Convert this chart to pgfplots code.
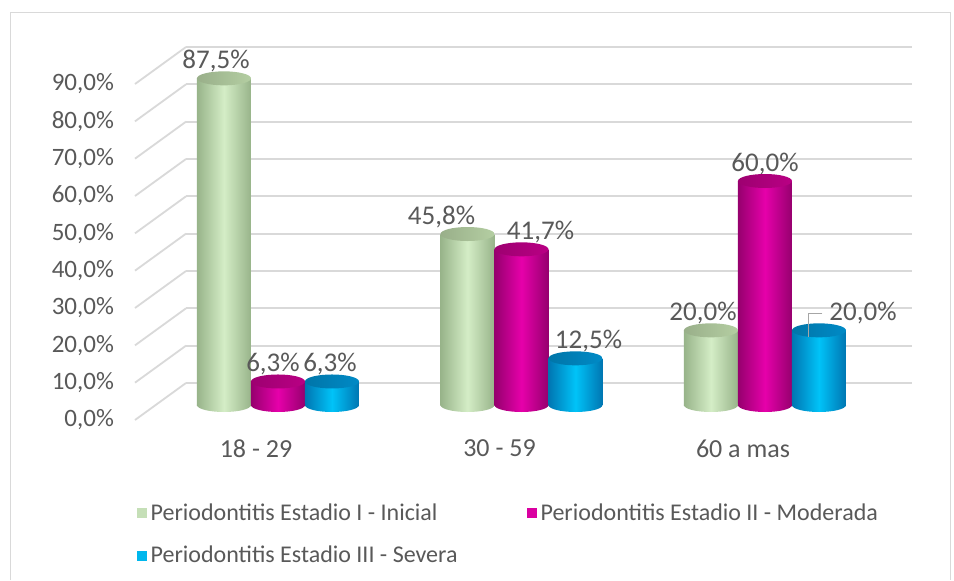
\documentclass[border=0pt]{standalone}
\usepackage{pgfplots}
\pgfplotsset{compat=1.18}
\usepackage{fontspec}
\setmainfont{Carlito}
\definecolor{txt}{RGB}{89,89,89}
\definecolor{gridc}{RGB}{217,217,217}
\definecolor{gL}{RGB}{212,237,198}
\definecolor{gD}{RGB}{152,180,138}
\definecolor{gC}{RGB}{180,206,162}
\definecolor{mL}{RGB}{230,0,170}
\definecolor{mD}{RGB}{150,0,110}
\definecolor{mC}{RGB}{185,0,132}
\definecolor{bL}{RGB}{0,195,248}
\definecolor{bD}{RGB}{0,118,178}
\definecolor{bC}{RGB}{0,138,198}
\pgfdeclareplotmark{botG}{\path[draw=none,left color=gD,right color=gD,middle color=gL] (0pt,0pt) ellipse [x radius=13.5pt, y radius=3.5pt];}
\pgfdeclareplotmark{botM}{\path[draw=none,left color=mD,right color=mD,middle color=mL] (0pt,0pt) ellipse [x radius=13.5pt, y radius=3.5pt];}
\pgfdeclareplotmark{botB}{\path[draw=none,left color=bD,right color=bD,middle color=bL] (0pt,0pt) ellipse [x radius=13.5pt, y radius=3.5pt];}
\pgfdeclareplotmark{topG}{\path[draw=none,left color=gC!85!black,right color=gC] (0pt,0pt) ellipse [x radius=13.5pt, y radius=3.5pt];}
\pgfdeclareplotmark{topM}{\path[draw=none,left color=mC!85!black,right color=mC] (0pt,0pt) ellipse [x radius=13.5pt, y radius=3.5pt];}
\pgfdeclareplotmark{topB}{\path[draw=none,left color=bC!85!black,right color=bC] (0pt,0pt) ellipse [x radius=13.5pt, y radius=3.5pt];}
\pgfplotsset{
  gbar/.style={ybar, bar width=27pt, bar shift=-27pt, draw=none, left color=gD, right color=gD, middle color=gL,
    legend image code/.code={\pgfsetfillcolor{gL!75!gD}\pgfpathrectangle{\pgfpoint{0pt}{-2.5pt}}{\pgfpoint{5pt}{5pt}}\pgfusepath{fill}}},
  mbar/.style={ybar, bar width=27pt, bar shift=0pt, draw=none, left color=mD, right color=mD, middle color=mL,
    legend image code/.code={\pgfsetfillcolor{mL!85!mD}\pgfpathrectangle{\pgfpoint{0pt}{-2.5pt}}{\pgfpoint{5pt}{5pt}}\pgfusepath{fill}}},
  bbar/.style={ybar, bar width=27pt, bar shift=27pt, draw=none, left color=bD, right color=bD, middle color=bL,
    legend image code/.code={\pgfsetfillcolor{bL!85!bD}\pgfpathrectangle{\pgfpoint{0pt}{-2.5pt}}{\pgfpoint{5pt}{5pt}}\pgfusepath{fill}}},
  lbl/.style={nodes near coords={\pgfmathprintnumber[fixed,fixed zerofill,precision=1,use comma]{\pgfplotspointmeta}\%},
    every node near coord/.append style={font=\fontsize{13.5}{15}\selectfont, text=txt, xshift=#1, yshift=-0.5pt}},
  leader/.style={every node near coord/.append style={append after command={\pgfextra{\draw[gray!70, line width=0.8pt] ([xshift=0pt]\tikzlastnode.west) -- ++(-7pt,0pt) -- ++(0pt,-12pt);}}}},
}
\begin{document}
\begin{tikzpicture}
\path[use as bounding box] (0,0) rectangle (477pt,290pt);
\fill[white] (0,0) rectangle (477pt,290pt);
\draw[gridc] (5pt,0) -- (5pt,284pt) -- (475pt,284pt) -- (475pt,0);
\begin{axis}[
  at={(80pt,87.5pt)}, anchor=south west,
  scale only axis, width=363pt, height=168pt,
  xmin=-0.4846, xmax=2.497, ymin=0, ymax=90,
  clip=false,
  ytick={0,10,...,90},
  xtick={0,1,2}, xticklabels={18 - 29, 30 - 59, 60 a mas},
  axis line style={draw=none},
  major tick length=0pt,
  ymajorgrids, grid style={gridc, line width=0.9pt, xshift=13pt, yshift=11pt},
  /pgf/number format/assume math mode=true,
  yticklabel={\pgfmathprintnumber[fixed,fixed zerofill,precision=1,use comma]{\tick}\%},
  yticklabel style={font=\fontsize{12.5}{14}\selectfont, text=txt, xshift=-19.5pt, yshift=-7.5pt},
  xticklabel style={font=\fontsize{13}{15}\selectfont, text=txt, xshift=-11pt, yshift=-14pt},
  legend columns=2,
  legend cell align=left,
  legend style={at={(-0.041,-0.268)}, anchor=north west, draw=none, fill=none,
    font=\fontsize{12}{13.5}\selectfont, text=txt, row sep=7.5pt,
    /tikz/every even column/.append style={column sep=32.5pt}},
]
\pgfplotsinvokeforeach{0,10,...,90}{
  \draw[gridc, line width=0.9pt] ([xshift=-12.5pt,yshift=-7.5pt]axis cs:-0.4846,#1) -- ([xshift=13pt,yshift=11pt]axis cs:-0.4846,#1);
}
% bottom ellipses
\addplot[draw=none, only marks, mark=botG, mark options={xshift=-27pt}, forget plot] coordinates {(0,0) (1,0) (2,0)};
\addplot[draw=none, only marks, mark=botM, mark options={xshift=0pt}, forget plot] coordinates {(0,0) (1,0) (2,0)};
\addplot[draw=none, only marks, mark=botB, mark options={xshift=27pt}, forget plot] coordinates {(0,0) (1,0) (2,0)};
% bars
\addplot[gbar, lbl=-31pt] coordinates {(0,87.5)};
\addplot[mbar, lbl=-2.5pt] coordinates {(0,6.3)};
\addplot[bbar, lbl=26pt] coordinates {(0,6.3)};
\addplot[gbar, lbl=-40pt, forget plot] coordinates {(1,45.8)};
\addplot[mbar, lbl=9.5pt, forget plot] coordinates {(1,41.7)};
\addplot[bbar, lbl=33.5pt, forget plot] coordinates {(1,12.5)};
\addplot[gbar, lbl=-31pt, forget plot] coordinates {(2,20.0)};
\addplot[mbar, lbl=0pt, forget plot] coordinates {(2,60.0)};
\addplot[bbar, forget plot] coordinates {(2,20.0)};
% top caps
\addplot[draw=none, only marks, mark=topG, mark options={xshift=-27pt}, forget plot] coordinates {(0,87.5) (1,45.8) (2,20.0)};
\addplot[draw=none, only marks, mark=topM, mark options={xshift=0pt}, forget plot] coordinates {(0,6.3) (1,41.7) (2,60.0)};
\addplot[draw=none, only marks, mark=topB, mark options={xshift=27pt}, forget plot] coordinates {(0,6.3) (1,12.5) (2,20.0)};
% label with leader for the last blue bar
\addplot[draw=none, mark=none, lbl=49pt, leader, forget plot] coordinates {(2,20.0)};
\legend{Periodontitis Estadio I - Inicial, Periodontitis Estadio II - Moderada, Periodontitis Estadio III - Severa}
\end{axis}
\end{tikzpicture}
\end{document}
